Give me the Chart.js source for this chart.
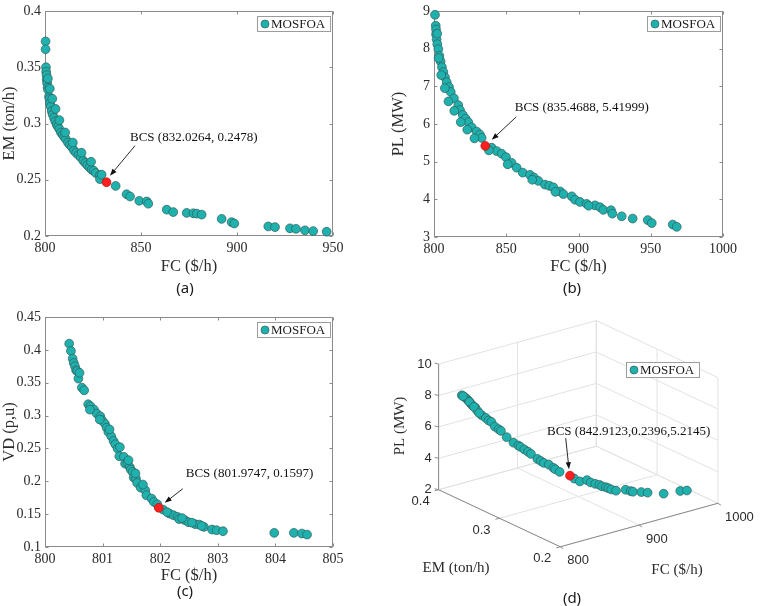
<!DOCTYPE html>
<html>
<head>
<meta charset="utf-8">
<title>MOSFOA Pareto fronts</title>
<script src="https://cdn.jsdelivr.net/npm/chart.js@4.4.1/dist/chart.umd.min.js"></script>
<style>
  html, body { margin: 0; background: #fff; }
  #page { position: relative; width: 760px; height: 606px; overflow: hidden; }
  canvas { position: absolute; }
  .cap { position: absolute; font: 15px "Noto Sans", sans-serif; color: #1a1a1a; transform: translate(-50%, -50%); }
</style>
</head>
<body>
<div id="page">
  <canvas id="chartA" width="380" height="300" style="left:0;top:0"></canvas>
  <canvas id="chartB" width="380" height="300" style="left:380px;top:0"></canvas>
  <canvas id="chartC" width="380" height="306" style="left:0;top:300px"></canvas>
  <canvas id="chartD" width="380" height="306" style="left:380px;top:300px"></canvas>
  <div class="cap" style="left:185px;top:287px">(a)</div>
  <div class="cap" style="left:572px;top:287px">(b)</div>
  <div class="cap" style="left:185px;top:590px">(c)</div>
  <div class="cap" style="left:572px;top:597px">(d)</div>
</div>
<script>
// values
const fcA = [800.3, 800.3, 800.5, 800.6, 800.8, 800.9, 801.1, 801.4, 801.6, 802.1, 802.3, 802.6, 803.0, 803.5, 804.0, 804.7, 805.3, 806.1, 806.8, 807.5,
  808.3, 809.2, 810.0, 810.9, 812.0, 813.0, 814.0, 815.1, 816.2, 817.4, 818.6, 819.9, 821.0, 822.0, 823.2, 824.3, 825.4, 826.4, 828.6, 828.6,
  836.8, 842.5, 844.3, 849.1, 853.0, 853.8, 863.4, 866.8, 873.8, 877.3, 879.0, 881.6, 892.0, 897.2, 898.6, 916.3, 919.8, 927.6, 930.7, 935.4,
  939.7, 946.7, 801.5, 802.5, 803.8, 805.5, 807.5, 810.5, 814.5, 819.0, 824.0, 829.5];
const emA = [0.373, 0.366, 0.350, 0.346, 0.343, 0.339, 0.336, 0.332, 0.330, 0.324, 0.322, 0.318, 0.315, 0.311, 0.308, 0.305, 0.302, 0.299, 0.297, 0.295,
  0.292, 0.290, 0.288, 0.286, 0.283, 0.281, 0.279, 0.276, 0.274, 0.272, 0.270, 0.267, 0.265, 0.263, 0.261, 0.259, 0.258, 0.256, 0.254, 0.2506,
  0.2445, 0.2371, 0.2351, 0.2313, 0.2307, 0.2287, 0.2234, 0.2213, 0.2205, 0.2202, 0.2199, 0.219, 0.2152, 0.2123, 0.2111, 0.2085, 0.2079, 0.2068, 0.2064, 0.205,
  0.2044, 0.2038, 0.340, 0.331, 0.322, 0.313, 0.303, 0.292, 0.283, 0.274, 0.266, 0.2545];
const bcsA = [832.0264, 0.2478];

const fcB = [800.7, 801.2, 801.4, 801.4, 801.8, 802.3, 803.0, 803.7, 804.6, 805.5, 806.5, 807.6, 808.8, 810.4, 811.6, 813.8, 816.8, 818.0, 819.9, 821.9,
  823.7, 826.1, 829.5, 831.8, 833.0, 839.9, 843.4, 846.8, 849.8, 853.7, 857.2, 861.4, 866.4, 869.2, 872.2, 876.8, 879.8, 882.6, 887.2, 889.5,
  895.3, 897.6, 901.0, 905.6, 911.4, 914.9, 917.2, 922.5, 923.4, 929.9, 937.5, 947.9, 950.7, 965.2, 968.0,
  802.2, 803.2, 805.0, 807.5, 810.0, 814.0, 818.5, 823.0, 828.0, 838.0, 851.0, 868.0, 884.0, 907.0];
const plB = [8.90, 8.61, 8.51, 8.38, 8.25, 8.12, 7.99, 7.81, 7.66, 7.51, 7.38, 7.24, 7.11, 6.98, 6.85, 6.68, 6.50, 6.37, 6.24, 6.14,
  6.05, 5.91, 5.80, 5.72, 5.63, 5.37, 5.28, 5.21, 5.12, 4.97, 4.84, 4.71, 4.65, 4.58, 4.49, 4.39, 4.36, 4.32, 4.21, 4.14,
  4.08, 3.99, 3.93, 3.88, 3.84, 3.79, 3.72, 3.71, 3.62, 3.55, 3.49, 3.45, 3.37, 3.33, 3.27,
  8.40, 7.75, 7.30, 6.95, 6.60, 6.35, 6.05, 5.85, 5.62, 5.30, 4.93, 4.52, 4.20, 3.83];
const bcsB = [835.4688, 5.41999];

const fcC = [800.42, 800.45, 800.48, 800.50, 800.52, 800.54, 800.56, 800.58, 800.64, 800.68, 800.75, 800.79, 800.85, 800.90, 800.96, 800.99, 801.04, 801.07, 801.10, 801.15,
  801.19, 801.22, 801.26, 801.29, 801.37, 801.39, 801.43, 801.47, 801.49, 801.52, 801.54, 801.58, 801.60, 801.66, 801.74, 801.76, 801.85, 801.89, 802.05, 802.16,
  802.23, 802.30, 802.33, 802.43, 802.49, 802.61, 802.68, 802.76, 802.90, 802.98, 803.09, 803.98, 804.32, 804.46, 804.55,
  800.60, 800.78, 800.95, 801.12, 801.30, 801.45, 801.57, 801.70, 801.95, 802.12, 802.38, 802.55, 802.72];
const vdC = [0.4094, 0.3983, 0.3866, 0.380, 0.375, 0.3689, 0.3678, 0.3562, 0.3425, 0.3385, 0.3172, 0.3141, 0.3091, 0.303, 0.2989, 0.2928, 0.2878, 0.2817, 0.2751, 0.2685,
  0.2614, 0.2563, 0.2497, 0.2381, 0.2371, 0.2269, 0.228, 0.2219, 0.2178, 0.2143, 0.2057, 0.2041, 0.1975, 0.1904, 0.1864, 0.1788, 0.1737, 0.1686, 0.157, 0.1509,
  0.1484, 0.1458, 0.1423, 0.1407, 0.1377, 0.1347, 0.1341, 0.1306, 0.1266, 0.1255, 0.124, 0.1215, 0.1215, 0.1205, 0.1189,
  0.365, 0.309, 0.294, 0.279, 0.252, 0.232, 0.212, 0.195, 0.165, 0.153, 0.144, 0.137, 0.132];
const bcsC = [801.9747, 0.1597];

const fcD = [800.1, 800.25, 800.35, 800.45, 800.6, 800.75, 800.95, 801.15, 801.6, 802.0, 802.4, 802.8, 803.4, 804.4, 805.0, 806.9, 809.3, 811.6, 812.7, 814.5,
  816.1, 817.6, 821.1, 822.9, 824.5, 827.2, 829.9, 831.4, 834.7, 844.7, 848.8, 855.4, 858.6, 862.9, 866.6, 869.3, 873.3, 876.4, 880.0, 884.6,
  893.6, 897.8, 900.7, 909.8, 917.0, 935.0, 955.0, 963.0, 800.2, 800.5, 800.85, 801.3];
const emD = [0.362, 0.358, 0.354, 0.351, 0.348, 0.345, 0.341, 0.338, 0.331, 0.325, 0.321, 0.317, 0.312, 0.307, 0.304, 0.297, 0.289, 0.284, 0.282, 0.278,
  0.274, 0.271, 0.265, 0.262, 0.259, 0.254, 0.250, 0.249, 0.246, 0.235, 0.231, 0.228, 0.226, 0.224, 0.222, 0.221, 0.220, 0.220, 0.220, 0.218,
  0.214, 0.211, 0.211, 0.209, 0.208, 0.205, 0.2036, 0.203, 0.360, 0.350, 0.343, 0.335];
const plD = [8.70, 8.67, 8.60, 8.53, 8.42, 8.34, 8.29, 8.14, 7.96, 7.90, 7.81, 7.79, 7.57, 7.48, 7.42, 7.12, 6.88, 6.76, 6.70, 6.58,
  6.49, 6.38, 6.12, 6.02, 5.93, 5.87, 5.70, 5.61, 5.45, 5.09, 4.92, 4.97, 4.81, 4.70, 4.62, 4.51, 4.41, 4.31, 4.18, 4.07,
  4.08, 3.99, 3.91, 3.80, 3.68, 3.42, 3.34, 3.27, 8.68, 8.50, 8.30, 8.05];
const bcsD = [842.9123, 0.2396, 5.2145];

const xTicksA = [800, 850, 900, 950], yTicksA = [0.2, 0.25, 0.3, 0.35, 0.4];
const xTicksB = [800, 850, 900, 950, 1000], yTicksB = [3, 4, 5, 6, 7, 8, 9];
const xTicksC = [800, 801, 802, 803, 804, 805], yTicksC = [0.1, 0.15, 0.2, 0.25, 0.3, 0.35, 0.4, 0.45];
const fcTicksD = [800, 900, 1000], emTicksD = [0.2, 0.3, 0.4], plTicksD = [2, 4, 6, 8, 10];

const TEAL = '#1fb1ad', EDGE = '#2f5d5b', RED = '#ff1f1f', AXIS = '#8a8a8a', TXT = '#2b2b2b';
const SERIF = '"Liberation Serif", "Times New Roman", serif';
const SANS = '"Liberation Sans", Arial, sans-serif';

// 3-D view: pixel position of the (800, 0.2, 2) corner and the pixel length of each axis
const view = { origin: [180, 250], fc: [162, -45], em: [-125, -59], pl: [0, -130] };

function project(fc, em, pl) {
  const f = (fc - fcTicksD[0]) / (fcTicksD[fcTicksD.length - 1] - fcTicksD[0]);
  const e = (em - emTicksD[0]) / (emTicksD[emTicksD.length - 1] - emTicksD[0]);
  const z = (pl - plTicksD[0]) / (plTicksD[plTicksD.length - 1] - plTicksD[0]);
  return {
    x: view.origin[0] + f * view.fc[0] + e * view.em[0] + z * view.pl[0],
    y: view.origin[1] + f * view.fc[1] + e * view.em[1] + z * view.pl[1]
  };
}

function drawArrow(ctx, x1, y1, x2, y2) {
  const ang = Math.atan2(y2 - y1, x2 - x1);
  ctx.beginPath();
  ctx.moveTo(x1, y1);
  ctx.lineTo(x2 - 5 * Math.cos(ang), y2 - 5 * Math.sin(ang));
  ctx.stroke();
  ctx.beginPath();
  ctx.moveTo(x2, y2);
  ctx.lineTo(x2 - 7 * Math.cos(ang) + 2.6 * Math.sin(ang), y2 - 7 * Math.sin(ang) - 2.6 * Math.cos(ang));
  ctx.lineTo(x2 - 7 * Math.cos(ang) - 2.6 * Math.sin(ang), y2 - 7 * Math.sin(ang) + 2.6 * Math.cos(ang));
  ctx.closePath();
  ctx.fill();
}

function drawBox(chart) {
  const { ctx, chartArea: a, scales: { x, y } } = chart;
  const L = Math.round(a.left) + 0.5, R = Math.round(a.right) - 0.5;
  const T = Math.round(a.top) + 0.5, B = Math.round(a.bottom) - 0.5;
  ctx.save();
  ctx.strokeStyle = AXIS;
  ctx.lineWidth = 1;
  ctx.strokeRect(L, T, R - L, B - T);
  ctx.beginPath();
  x.ticks.forEach(t => {
    const px = Math.round(x.getPixelForValue(t.value)) + 0.5;
    ctx.moveTo(px, B); ctx.lineTo(px, B - 3);
    ctx.moveTo(px, T); ctx.lineTo(px, T + 3);
  });
  y.ticks.forEach(t => {
    const py = Math.round(y.getPixelForValue(t.value)) + 0.5;
    ctx.moveTo(L, py); ctx.lineTo(L + 3, py);
    ctx.moveTo(R, py); ctx.lineTo(R - 3, py);
  });
  ctx.stroke();
  ctx.restore();
}

function drawCube(chart) {
  const { ctx, scales: { x, y } } = chart;
  const P = (fc, em, pl) => {
    const p = project(fc, em, pl);
    return [x.getPixelForValue(p.x), y.getPixelForValue(p.y)];
  };
  const seg = (p, q) => { ctx.moveTo(p[0], p[1]); ctx.lineTo(q[0], q[1]); };
  const f0 = fcTicksD[0], f1 = fcTicksD[fcTicksD.length - 1];
  const e0 = emTicksD[0], e1 = emTicksD[emTicksD.length - 1];
  const z0 = plTicksD[0], z1 = plTicksD[plTicksD.length - 1];
  ctx.save();
  ctx.lineWidth = 1;
  ctx.strokeStyle = '#e2e2e2';
  ctx.beginPath();
  plTicksD.forEach(z => { seg(P(f0, e1, z), P(f1, e1, z)); seg(P(f1, e1, z), P(f1, e0, z)); });
  fcTicksD.forEach(f => { seg(P(f, e1, z0), P(f, e1, z1)); seg(P(f, e0, z0), P(f, e1, z0)); });
  emTicksD.forEach(e => { seg(P(f1, e, z0), P(f1, e, z1)); seg(P(f0, e, z0), P(f1, e, z0)); });
  ctx.stroke();

  ctx.strokeStyle = AXIS;
  ctx.beginPath();
  seg(P(f0, e1, z0), P(f0, e1, z1));
  seg(P(f0, e0, z0), P(f0, e1, z0));
  seg(P(f0, e0, z0), P(f1, e0, z0));
  plTicksD.forEach(z => { const p = P(f0, e1, z); seg(p, [p[0] - 4, p[1] - 1]); });
  emTicksD.forEach(e => { const p = P(f0, e, z0); seg(p, [p[0] - 4, p[1] + 1]); });
  fcTicksD.forEach(f => { const p = P(f, e0, z0); seg(p, [p[0] + 3, p[1] + 2]); });
  ctx.stroke();

  ctx.fillStyle = TXT;
  ctx.font = `13px ${SANS}`;
  ctx.textBaseline = 'middle';
  ctx.textAlign = 'right';
  plTicksD.forEach(z => { const p = P(f0, e1, z); ctx.fillText(String(z), p[0] - 7, p[1]); });
  ctx.textAlign = 'center';
  emTicksD.forEach(e => { const p = P(f0, e, z0); ctx.fillText(String(e), p[0] - 18, p[1] + 12); });
  ctx.textAlign = 'left';
  fcTicksD.forEach(f => { const p = P(f, e0, z0); ctx.fillText(String(f), p[0] + 7, p[1] + 14); });

  ctx.font = `15px ${SERIF}`;
  ctx.textAlign = 'center';
  ctx.fillText('EM (ton/h)', 76, 268);
  ctx.fillText('FC ($/h)', 297, 270);
  ctx.translate(20, 126);
  ctx.rotate(-Math.PI / 2);
  ctx.fillText('PL (MW)', 0, 0);
  ctx.restore();
}

const matlab = {
  id: 'matlab',
  beforeDatasetsDraw(chart, args, o) {
    if (o.cube) drawCube(chart); else drawBox(chart);
  },
  afterDatasetsDraw(chart, args, o) {
    const { ctx, chartArea: a } = chart;
    ctx.save();
    // legend box
    const name = chart.data.datasets[0].label;
    ctx.font = `13px ${SERIF}`;
    const w = Math.round(ctx.measureText(name).width) + 19, h = 15;
    const lx = o.legendAt ? o.legendAt[0] : Math.round(a.right) - 3 - w;
    const ly = o.legendAt ? o.legendAt[1] : Math.round(a.top) + 5;
    ctx.fillStyle = '#fff';
    ctx.fillRect(lx, ly, w, h);
    ctx.strokeStyle = '#9c9c9c';
    ctx.lineWidth = 1;
    ctx.strokeRect(lx + 0.5, ly + 0.5, w, h);
    ctx.beginPath();
    ctx.arc(lx + 8, ly + h / 2 + 0.5, 4, 0, Math.PI * 2);
    ctx.fillStyle = TEAL; ctx.fill();
    ctx.strokeStyle = EDGE; ctx.lineWidth = 0.7; ctx.stroke();
    ctx.fillStyle = '#1a1a1a';
    ctx.textBaseline = 'middle';
    ctx.textAlign = 'left';
    ctx.fillText(name, lx + 14, ly + h / 2 + 1);

    // best compromise solution callout
    const pt = chart.getDatasetMeta(1).data[0];
    ctx.strokeStyle = '#111';
    ctx.fillStyle = '#111';
    ctx.lineWidth = 0.9;
    drawArrow(ctx, pt.x + o.tail[0], pt.y + o.tail[1], pt.x + o.tip[0], pt.y + o.tip[1]);
    ctx.font = `13px ${SERIF}`;
    ctx.fillText(o.text, pt.x + o.textAt[0], pt.y + o.textAt[1]);
    ctx.restore();
  }
};

// order: the front set is drawn first, the BCS point last (on top)
function markers(data, color, edge, order) {
  return {
    data, order, backgroundColor: color, borderColor: edge, borderWidth: 0.7,
    pointRadius: 4.4, pointHoverRadius: 4.4, clip: false
  };
}

function axis(ticks, size, title, pad, tickPad) {
  return {
    type: 'linear',
    min: ticks[0],
    max: ticks[ticks.length - 1],
    afterBuildTicks: s => { s.ticks = ticks.map(v => ({ value: v })); },
    afterFit: s => { if (s.isHorizontal()) s.height = size; else s.width = size; },
    grid: { display: false, drawTicks: false },
    border: { display: false },
    ticks: { autoSkip: false, maxRotation: 0, padding: tickPad, color: TXT,
      font: { family: SERIF, size: 14, lineHeight: 1 }, callback: v => String(v) },
    title: { display: true, text: title, color: TXT,
      font: { family: SERIF, size: 16.5, lineHeight: 1.2 }, padding: pad }
  };
}

function scatter2d(id, xs, ys, bcs, cfg) {
  return new Chart(document.getElementById(id), {
    type: 'scatter',
    data: {
      datasets: [
        Object.assign({ label: 'MOSFOA' }, markers(xs.map((v, i) => ({ x: v, y: ys[i] })), TEAL, EDGE, 2)),
        Object.assign({ label: 'BCS' }, markers([{ x: bcs[0], y: bcs[1] }], RED, '#b01010', 1))
      ]
    },
    options: {
      responsive: false,
      animation: false,
      events: [],
      layout: { padding: cfg.pad },
      plugins: {
        legend: { display: false },
        tooltip: { enabled: false },
        matlab: { text: `BCS (${bcs.join(', ')})`, tip: cfg.tip, tail: cfg.tail, textAt: cfg.textAt }
      },
      scales: {
        x: axis(cfg.xTicks, cfg.xh, 'FC ($/h)', { top: 0, bottom: cfg.xTitlePad }, 5),
        y: axis(cfg.yTicks, cfg.yw, cfg.yTitle, { top: cfg.yTitlePad, bottom: 0 }, 4)
      }
    },
    plugins: [matlab]
  });
}

scatter2d('chartA', fcA, emA, bcsA, {
  xTicks: xTicksA, yTicks: yTicksA, yTitle: 'EM (ton/h)',
  pad: { left: 0, top: 7, right: 47, bottom: 0 }, xh: 64, yw: 45, xTitlePad: 23, yTitlePad: 0,
  tip: [3.5, -6.5], tail: [28.5, -36.5], textAt: [23.5, -44.5]
});

scatter2d('chartB', fcB, plB, bcsB, {
  xTicks: xTicksB, yTicks: yTicksB, yTitle: 'PL (MW)',
  pad: { left: 0, top: 8, right: 37, bottom: 0 }, xh: 63, yw: 54, xTitlePad: 23, yTitlePad: 8.5,
  tip: [6.5, -6], tail: [31, -29], textAt: [29.5, -38]
});

scatter2d('chartC', fcC, vdC, bcsC, {
  xTicks: xTicksC, yTicks: yTicksC, yTitle: 'VD (p,u)',
  pad: { left: 0, top: 17, right: 47, bottom: 0 }, xh: 59, yw: 45, xTitlePad: 20, yTitlePad: 0,
  tip: [6, -5], tail: [24, -19], textAt: [27, -34]
});

// 3-D panel: points are projected, then placed on pixel-sized linear scales
const ptsD = fcD.map((f, i) => project(f, emD[i], plD[i]));
const bcsPt = project(bcsD[0], bcsD[1], bcsD[2]);
new Chart(document.getElementById('chartD'), {
  type: 'scatter',
  data: {
    datasets: [
      Object.assign({ label: 'MOSFOA' }, markers(ptsD, TEAL, EDGE, 2)),
      Object.assign({ label: 'BCS' }, markers([bcsPt], RED, '#b01010', 1))
    ]
  },
  options: {
    responsive: false,
    animation: false,
    events: [],
    layout: { padding: 0 },
    plugins: {
      legend: { display: false },
      tooltip: { enabled: false },
      matlab: { cube: true, legendAt: [246, 62], text: `BCS (${bcsD.join(',')})`,
        tip: [-1, -6.5], tail: [-4.3, -37.5], textAt: [-23, -44.5] }
    },
    scales: {
      x: { type: 'linear', display: false, min: 0, max: 380 },
      y: { type: 'linear', display: false, min: 0, max: 306, reverse: true }
    }
  },
  plugins: [matlab]
});
</script>
</body>
</html>
